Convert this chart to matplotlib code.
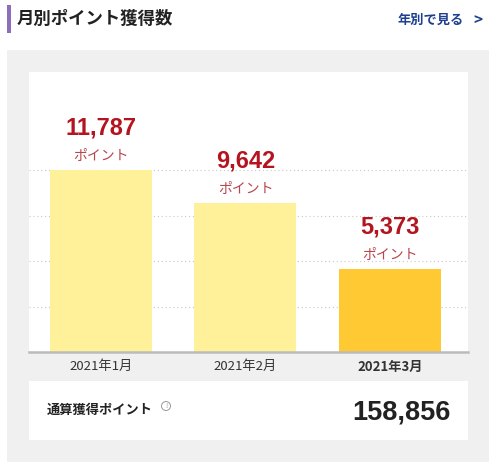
import matplotlib.pyplot as plt
import numpy as np
from matplotlib.patches import Rectangle, Circle

plt.rcParams['font.family'] = ['Noto Sans CJK JP', 'DejaVu Sans']

# Data
months = ['2021年1月', '2021年2月', '2021年3月']
points = [11787, 9642, 5373]
bar_colors = ['#fff199', '#fff199', '#ffc933']
total_points = 158856
title = '月別ポイント獲得数'
link_text = '年別で見る'
total_label = '通算獲得ポイント'
unit_label = 'ポイント'

W, H = 500, 472
fig = plt.figure(figsize=(W / 100, H / 100), dpi=100)
fig.patch.set_facecolor('white')

# Background layer in pixel coordinates
bg = fig.add_axes([0, 0, 1, 1])
bg.set_xlim(0, W)
bg.set_ylim(H, 0)
bg.axis('off')

bg.add_patch(Rectangle((7, 5), 3.5, 28, color='#8c6fb8', lw=0))
bg.text(17, 19, title, fontsize=12.5, fontweight='bold', color='#222222', va='center', ha='left')
bg.text(464, 20, link_text, fontsize=9.5, fontweight='bold', color='#1d3f8f', va='center', ha='right')
bg.text(482, 20, '>', fontsize=11, fontweight='bold', color='#1d3f8f', va='center', ha='right')

bg.add_patch(Rectangle((7, 50), 482, 412, color='#f0f0f0', lw=0))
bg.add_patch(Rectangle((29, 72), 439, 280, color='white', lw=0))
bg.add_patch(Rectangle((29, 381), 439, 59, color='white', lw=0))

bg.text(47, 410, total_label, fontsize=9.5, fontweight='bold', color='#222222', va='center', ha='left')
bg.add_patch(Circle((166, 406), 4.5, fill=False, ec='#999999', lw=0.7))
bg.text(166, 406, '!', fontsize=5, color='#999999', ha='center', va='center')
bg.text(451, 412, f'{total_points:,}', fontsize=19.5, fontweight='bold', color='#222222',
        va='center', ha='right', family=['Liberation Sans'])

# Chart axes (pixel box 29..468 x 72..352)
left, right, top, bottom = 29, 468, 72, 352
ax = fig.add_axes([left / W, 1 - bottom / H, (right - left) / W, (bottom - top) / H])
ax.set_facecolor('white')

x = np.arange(len(points))
ax.bar(x, points, width=0.706, color=bar_colors, zorder=2)

ymax = max(points) * 280 / 182
ax.set_ylim(0, ymax)
ax.set_xlim(-0.498, 2.54)

for yv in np.linspace(0, max(points), 5)[1:]:
    ax.axhline(yv, color='#c8c8c8', lw=0.8, ls=(0, (1, 2.5)), zorder=1)
ax.axhline(0, color='#bbbbbb', lw=1.8, zorder=3, clip_on=False)

scale = (bottom - top) / ymax  # px per unit
for xi, v in zip(x, points):
    ax.text(xi, v + 42 / scale, f'{v:,}', ha='center', va='center', fontsize=17,
            fontweight='bold', color='#b3141f', family=['Liberation Sans'])
    ax.text(xi, v + 14 / scale, unit_label, ha='center', va='center', fontsize=10,
            color='#b8454b')

for s in ax.spines.values():
    s.set_visible(False)
ax.set_yticks([])
ax.set_xticks(x)
ax.set_xticklabels(months, fontsize=9.5, color='#333333')
ax.tick_params(axis='x', length=0, pad=6)
ax.get_xticklabels()[2].set_fontweight('bold')

fig.savefig('out.png', dpi=100)
